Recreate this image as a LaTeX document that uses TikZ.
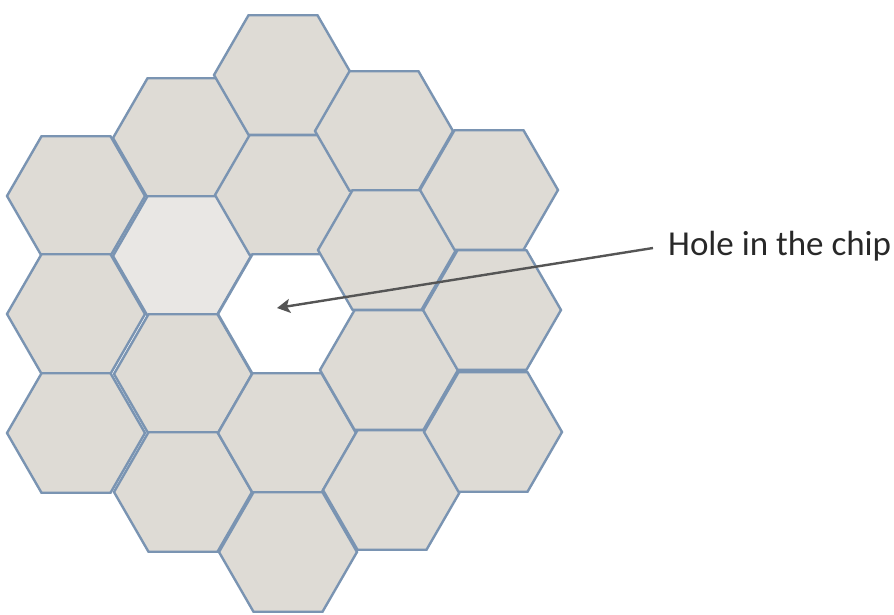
\documentclass[tikz,border=0pt]{standalone}
\usepackage{fontspec}
\setmainfont{Carlito}
\usetikzlibrary{shapes.geometric,arrows.meta}
\definecolor{hexfill}{RGB}{222,219,213}
\definecolor{hexlight}{RGB}{233,231,228}
\definecolor{hexline}{RGB}{122,148,178}
\definecolor{arrowgrey}{RGB}{85,85,85}
\definecolor{textgrey}{RGB}{40,40,40}
\tikzset{
  hexcell/.style={regular polygon, regular polygon sides=6, minimum size=138pt,
    inner sep=0pt, outer sep=0pt, draw=hexline, line width=2.4pt, fill=hexfill},
  hexpale/.style={hexcell, fill=hexlight},
  hexhole/.style={hexcell, fill=white},
  pointer/.style={draw=arrowgrey, line width=2.4pt, -{Stealth[length=13pt,width=14pt,inset=3pt]}},
  labeltext/.style={font=\fontsize{35}{41}\selectfont, text=textgrey, inner sep=0pt}
}
\begin{document}
\begin{tikzpicture}[x=1pt,y=-1pt]
\useasboundingbox (0,0) rectangle (894,614);
% column A
\node[hexcell] (a1) at (76,196) {};
\node[hexcell] (a2) at (76,314) {};
\node[hexcell] (a3) at (76,433) {};
% column B
\node[hexcell] (b1) at (182,138) {};
\node[hexpale] (b2) at (182,256) {};
\node[hexcell] (b3) at (183,374) {};
\node[hexcell] (b4) at (183,492) {};
% column C
\node[hexcell] (c1) at (283,75) {};
\node[hexcell] (c2) at (284,195) {};
\node[hexhole] (c3) at (287,314) {};
\node[hexcell] (c4) at (287,433) {};
\node[hexcell] (c5) at (288,552) {};
% column D
\node[hexcell] (d1) at (384,131) {};
\node[hexcell] (d2) at (387,250) {};
\node[hexcell] (d3) at (389,370) {};
\node[hexcell] (d4) at (392,490) {};
% column E
\node[hexcell] (e1) at (489,190) {};
\node[hexcell] (e2) at (492,310) {};
\node[hexcell] (e3) at (493,432) {};
% label and pointer
\node[labeltext, anchor=base west] (label) at (668,255) {Hole in the chip};
\coordinate (tail) at (653,248);
\coordinate (tip) at (277,308);
\draw[pointer] (tail) -- (tip);
\end{tikzpicture}
\end{document}
